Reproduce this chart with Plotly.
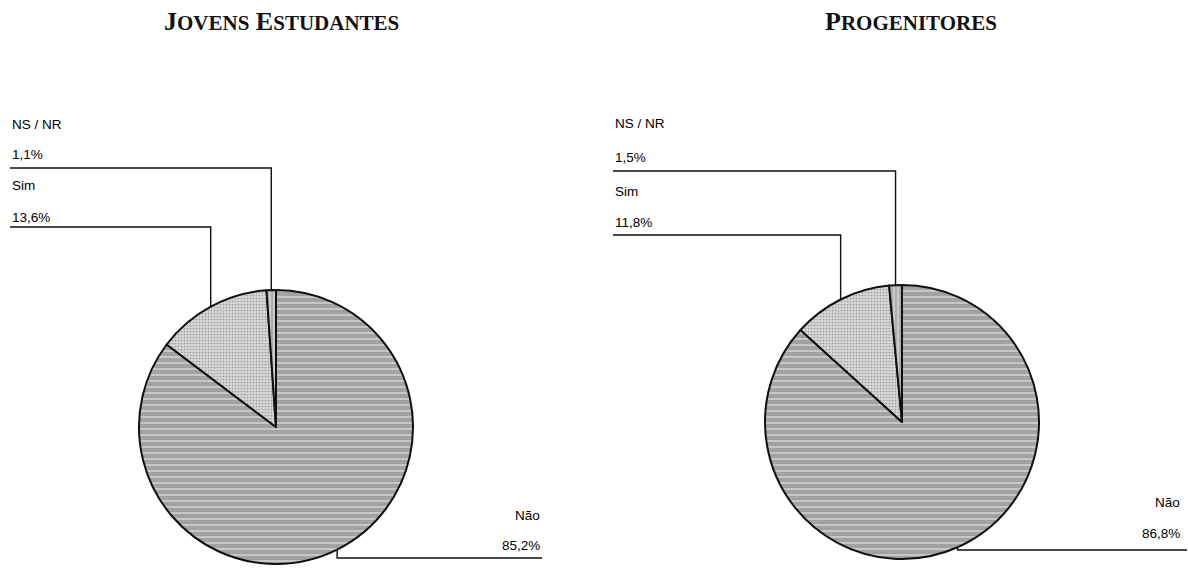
import math
import plotly.graph_objects as go

# ---- data ----
categories = ["Não", "Sim", "NS / NR"]
jovens_pct = [85.2, 13.6, 1.1]
progenitores_pct = [86.8, 11.8, 1.5]
chart_titles = ["Jovens Estudantes", "Progenitores"]

W, H = 1188, 569


def fx(x):
    return x / W


def fy(y):
    return 1 - y / H


def small_caps(text, big=26, small=21):
    """Render text as small caps using two font sizes."""
    words = []
    for word in text.split(" "):
        words.append(
            f"<span style='font-size:{big}px'>{word[0].upper()}</span>"
            f"<span style='font-size:{small}px'>{word[1:].upper()}</span>"
        )
    return " ".join(words)


def fmt(v):
    return f"{v:.1f}".replace(".", ",") + "%"


# layout of each panel (pixel units)
panels = [
    dict(values=jovens_pct, title=chart_titles[0], title_x=281,
         cx=276, cy=427, r=137, left_x=10,
         rows={"NS / NR": (125, 155, 168), "Sim": (186, 217, 227)},
         nao=(542, 515, 545, 558, 542)),
    dict(values=progenitores_pct, title=chart_titles[1], title_x=911,
         cx=902, cy=422, r=137, left_x=613,
         rows={"NS / NR": (123, 157, 171), "Sim": (191, 223, 235)},
         nao=(1182, 503, 533, 550, 1187)),
]

fill_bg = ["#a2a2a2", "#d6d6d6", "#acacac"]
fill_fg = ["#d4d4d4", "#9c9c9c", "#dedede"]
shapes_pat = ["-", ".", "|"]

fig = go.Figure()
annotations = []
shapes = []
label_font = dict(family="Liberation Sans, Arial, sans-serif", size=13.5, color="#000")

for p in panels:
    cx, cy, r = p["cx"], p["cy"], p["r"]
    fig.add_trace(go.Pie(
        labels=categories,
        values=p["values"],
        sort=False,
        direction="clockwise",
        rotation=0,
        textinfo="none",
        hoverinfo="label+percent",
        showlegend=False,
        domain=dict(x=[fx(cx - r), fx(cx + r)], y=[fy(cy + r), fy(cy - r)]),
        marker=dict(
            colors=fill_bg,
            line=dict(color="#111", width=2),
            pattern=dict(shape=shapes_pat, bgcolor=fill_bg, fgcolor=fill_fg,
                         size=[6, 3, 4], solidity=[0.25, 0.25, 0.3]),
        ),
    ))

    # title
    annotations.append(dict(
        x=fx(p["title_x"]), y=fy(22), xref="paper", yref="paper",
        text=f"<b>{small_caps(p['title'])}</b>", showarrow=False,
        xanchor="center", yanchor="middle",
        font=dict(family="Liberation Serif, Times New Roman, serif", size=26, color="#111"),
    ))

    # slice mid-angle anchors on the rim
    total = sum(p["values"])
    cum = 0.0
    anchors = {}
    for name, v in zip(categories, p["values"]):
        theta = 2 * math.pi * (cum + v / 2) / total
        anchors[name] = (cx + r * math.sin(theta), cy - r * math.cos(theta))
        cum += v

    # labels on the left with elbow leaders
    for name, (name_y, pct_y, line_y) in p["rows"].items():
        val = p["values"][categories.index(name)]
        ax, ay = anchors[name]
        annotations.append(dict(x=fx(p["left_x"]), y=fy(name_y), xref="paper", yref="paper",
                                text=name, showarrow=False, xanchor="left", yanchor="middle",
                                font=label_font))
        annotations.append(dict(x=fx(p["left_x"]), y=fy(pct_y), xref="paper", yref="paper",
                                text=fmt(val), showarrow=False, xanchor="left", yanchor="middle",
                                font=label_font))
        path = f"M {fx(p['left_x'])} {fy(line_y)} L {fx(ax)} {fy(line_y)} L {fx(ax)} {fy(ay)}"
        shapes.append(dict(type="path", xref="paper", yref="paper", path=path,
                           line=dict(color="#111", width=1.4)))

    # "Não" label on the right
    text_right, name_y, pct_y, line_y, line_end = p["nao"]
    ax, ay = anchors["Não"]
    annotations.append(dict(x=fx(text_right), y=fy(name_y), xref="paper", yref="paper",
                            text="Não", showarrow=False, xanchor="right", yanchor="middle",
                            font=label_font))
    annotations.append(dict(x=fx(text_right), y=fy(pct_y), xref="paper", yref="paper",
                            text=fmt(p["values"][0]), showarrow=False, xanchor="right",
                            yanchor="middle", font=label_font))
    path = f"M {fx(ax)} {fy(ay)} L {fx(ax)} {fy(line_y)} L {fx(line_end)} {fy(line_y)}"
    shapes.append(dict(type="path", xref="paper", yref="paper", path=path,
                       line=dict(color="#111", width=1.4)))

fig.update_layout(
    width=W, height=H,
    margin=dict(l=0, r=0, t=0, b=0),
    paper_bgcolor="white",
    plot_bgcolor="white",
    annotations=annotations,
    shapes=shapes,
)

fig.write_html("out.html")
